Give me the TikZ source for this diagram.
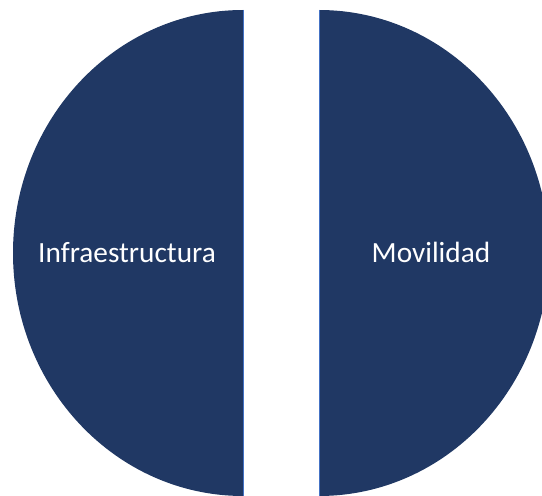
\documentclass[tikz,border=0pt]{standalone}
\usepackage{fontspec}
\setmainfont{Carlito}
\definecolor{navy}{HTML}{203864}
\definecolor{edge}{HTML}{4472C4}
\tikzset{
  half/.style={fill=navy},
  flatedge/.style={draw=edge, line width=1pt},
  lbl/.style={text=white, font=\fontsize{29.3}{33}\selectfont, anchor=base, inner sep=0pt}
}
\begin{document}
\begin{tikzpicture}[x=1pt,y=1pt]
\useasboundingbox (0,0) rectangle (542,496);
\clip (0,0) rectangle (542,496);
\fill[half] (243,486) arc[start angle=90, end angle=270, x radius=230, y radius=243] -- cycle;
\fill[half] (319,0) arc[start angle=-90, end angle=90, x radius=230, y radius=243] -- cycle;
\draw[flatedge] (243,486) -- (243,0);
\draw[flatedge] (319,486) -- (319,0);
\node[lbl] (infra) at (127,233) {Infraestructura};
\node[lbl] (movil) at (431,233) {Movilidad};
\end{tikzpicture}
\end{document}
